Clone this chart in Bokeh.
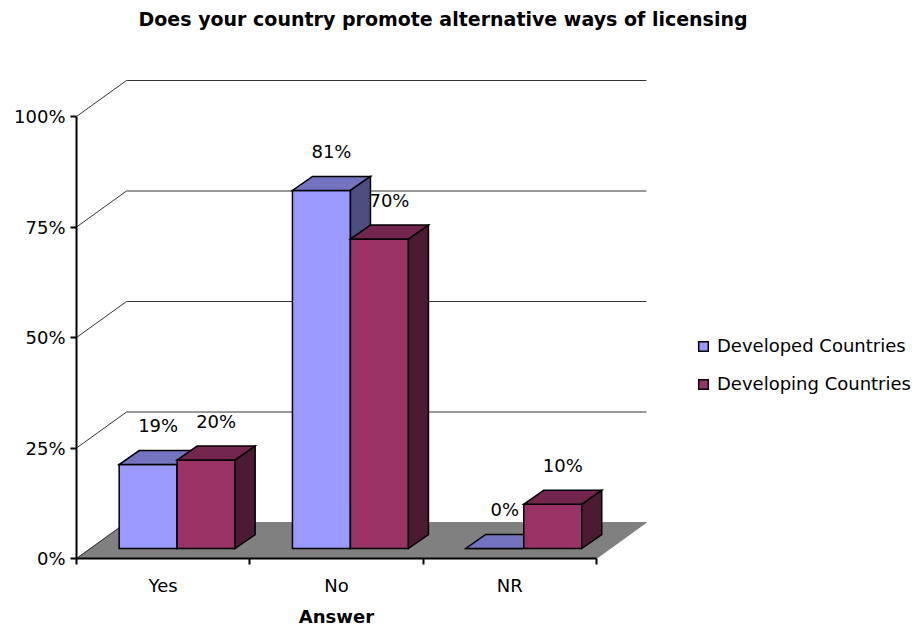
from bokeh.plotting import figure
from bokeh.models import (Range1d, FixedTicker, PrintfTickFormatter, ColumnDataSource,
                          Legend, LegendItem, Title)
from bokeh.core.properties import value
from bokeh.embed import file_html
from bokeh.resources import INLINE

# ---------------- data ----------------
categories = ["Yes", "No", "NR"]
series_names = ["Developed Countries", "Developing Countries"]
developed = [19, 81, 0]
developing = [20, 70, 10]
y_ticks = [0, 25, 50, 75, 100]
title_text = "Does your country promote alternative ways of licensing"
x_title = "Answer"

# ---------------- styles ----------------
front_colors = ["#9999FF", "#993366"]
top_colors = ["#7373BF", "#73264D"]
side_colors = ["#4D4D80", "#4D1A33"]
FONT = "DejaVu Sans"

# ---------------- geometry (pixels) ----------------
W, H = 921, 634
LEFT, RIGHT, TOP, BOTTOM = 76, 0, 34, 76
CPX = 173.3   # pixels per category
YPX = 4.42    # pixels per percent
frame_w = W - LEFT - RIGHT
frame_h = H - TOP - BOTTOM

DX, DY = 50 / CPX, 36 / YPX      # wall depth
FX, FY = 14 / CPX, 10 / YPX      # bar front-face offset into depth
BDX, BDY = 20 / CPX, 14 / YPX    # bar depth
BW = 58 / CPX                    # bar width
LBL = 32 / YPX                   # label lift above bar top

n = len(categories)

p = figure(width=W, height=H,
           x_range=Range1d(0, frame_w / CPX), y_range=Range1d(0, frame_h / YPX),
           output_backend="svg", toolbar_location=None, tools="",
           min_border_left=LEFT, min_border_right=RIGHT,
           min_border_top=TOP, min_border_bottom=BOTTOM)
p.outline_line_color = None
p.xgrid.visible = False
p.ygrid.visible = False
p.background_fill_color = "white"

# title
p.title.text = title_text
p.title.align = "left"
p.title.offset = 62
p.title.text_font = FONT
p.title.text_font_size = "19px"
p.title.text_font_style = "bold"
p.title.text_color = "black"

# floor
p.patch([0, n, n + DX, DX], [0, 0, DY, DY], fill_color="#808080",
        line_color="#808080", line_width=1)

# walls gridlines
back_xs = [[DX, n + DX] for t in y_ticks[1:]]
back_ys = [[t + DY, t + DY] for t in y_ticks[1:]]
p.multi_line(back_xs, back_ys, line_color="#333333", line_width=1)
side_xs = [[0, DX] for t in y_ticks]
side_ys = [[t, t + DY] for t in y_ticks]
p.multi_line(side_xs, side_ys, line_color="#333333", line_width=1)

# bars
renderers = []
lab_x, lab_y, lab_t = [], [], []
for s, vals in enumerate([developed, developing]):
    fr_x, fr_y, tp_x, tp_y, sd_x, sd_y = [], [], [], [], [], []
    for i, v in enumerate(vals):
        c = i + 0.5 + FX
        x0 = c - BW + s * BW
        x1 = x0 + BW
        yb = FY
        yt = FY + v
        fr_x.append([x0, x1, x1, x0]); fr_y.append([yb, yb, yt, yt])
        tp_x.append([x0, x1, x1 + BDX, x0 + BDX]); tp_y.append([yt, yt, yt + BDY, yt + BDY])
        sd_x.append([x1, x1 + BDX, x1 + BDX, x1]); sd_y.append([yb, yb + BDY, yt + BDY, yt])
        lab_x.append((x0 + x1) / 2 + BDX / 2)
        lab_y.append(yt + BDY / 2 + LBL)
        lab_t.append(f"{v}%")
    src = ColumnDataSource(dict(
        xs=fr_x + tp_x + sd_x, ys=fr_y + tp_y + sd_y,
        color=[front_colors[s]] * n + [top_colors[s]] * n + [side_colors[s]] * n))
    r = p.patches("xs", "ys", source=src, fill_color="color", line_color="black",
                  line_width=1.5, line_join="miter")
    renderers.append(r)

# data labels
p.text(lab_x, lab_y, text=lab_t, text_font=value(FONT), text_font_size="18px",
       text_align="center", text_baseline="middle", text_color="black")

# x axis
xa = p.xaxis[0]
xa.ticker = FixedTicker(ticks=[i + 0.5 for i in range(n)], minor_ticks=list(range(n + 1)))
xa.major_label_overrides = {i + 0.5: c for i, c in enumerate(categories)}
xa.bounds = (0, n)
xa.major_tick_out = 0
xa.major_tick_in = 0
xa.minor_tick_out = 6
xa.minor_tick_in = 0
xa.minor_tick_line_color = "black"
xa.minor_tick_line_width = 2
xa.axis_line_width = 2
xa.axis_line_color = "black"
xa.major_label_standoff = 10
xa.major_label_text_font = FONT
xa.major_label_text_font_size = "18px"
xa.major_label_text_color = "black"

# x axis title, centred under the category axis
x_label = Title(text=x_title, align="left", offset=(n / 2) * CPX - 4.176 * 18 / 2,
                text_font=FONT, text_font_size="18px", text_font_style="bold",
                text_color="black", standoff=10)
p.add_layout(x_label, "below")

# y axis
ya = p.yaxis[0]
ya.ticker = FixedTicker(ticks=y_ticks)
ya.formatter = PrintfTickFormatter(format="%d%%")
ya.bounds = (0, 100)
ya.major_tick_out = 6
ya.major_tick_in = 0
ya.minor_tick_out = 0
ya.minor_tick_in = 0
ya.major_tick_line_width = 2
ya.major_tick_line_color = "black"
ya.axis_line_width = 2
ya.axis_line_color = "black"
ya.major_label_standoff = 5
ya.major_label_text_font = FONT
ya.major_label_text_font_size = "18px"
ya.major_label_text_color = "black"

# legend
legend = Legend(items=[LegendItem(label=series_names[k], renderers=[renderers[k]])
                       for k in range(2)],
                location=(621, 164), orientation="vertical", padding=0, spacing=17,
                glyph_width=12, glyph_height=12, label_standoff=8,
                label_text_font=FONT, label_text_font_size="18px",
                label_text_color="black",
                border_line_color=None, background_fill_alpha=0)
p.add_layout(legend)

open("out.html", "w").write(file_html(p, INLINE))
